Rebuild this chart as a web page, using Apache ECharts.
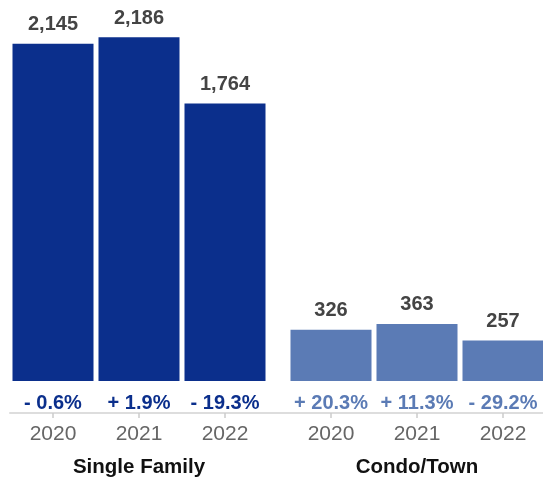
<!DOCTYPE html>
<html>
<head>
<meta charset="utf-8">
<script src="https://cdn.jsdelivr.net/npm/echarts@6/dist/echarts.min.js"></script>
<style>
  html, body { margin: 0; padding: 0; background: #fff; }
  #chart { width: 543px; height: 478px; }
</style>
</head>
<body>
<div id="chart"></div>
<script>
// Closed sales by property type, year over year
const groups = ['Single Family', 'Condo/Town'];
const years = ['2020', '2021', '2022'];
const singleFamily = [2145, 2186, 1764];
const condoTown = [326, 363, 257];
const singleFamilyChange = ['- 0.6%', '+ 1.9%', '- 19.3%'];
const condoTownChange = ['+ 20.3%', '+ 11.3%', '- 29.2%'];

const darkBlue = '#0b2f8c';
const lightBlue = '#5b7bb5';
const FONT = '"Liberation Sans", Arial, Helvetica, sans-serif';

const chart = echarts.init(document.getElementById('chart'), null, { renderer: 'canvas' });

const panels = [
  { name: groups[0], values: singleFamily, change: singleFamilyChange, color: darkBlue, pos: { left: 10, width: 258 } },
  { name: groups[1], values: condoTown, change: condoTownChange, color: lightBlue, pos: { left: 288, width: 258 } }
];

const grid = [];
const xAxis = [];
const yAxis = [];
const series = [];

panels.forEach((p, i) => {
  grid.push(Object.assign({ top: 35, bottom: 97, containLabel: false, outerBoundsMode: 'none' }, p.pos));
  // percent-change row directly under the bars
  xAxis.push({
    type: 'category', gridIndex: i, data: years,
    axisLine: { show: false, onZero: false }, axisTick: { show: false },
    axisLabel: {
      interval: 0, margin: 12, color: p.color, fontFamily: FONT, fontSize: 20, fontWeight: 'bold',
      formatter: (v, idx) => p.change[idx]
    }
  });
  // year row with ticks and group name
  xAxis.push({
    type: 'category', gridIndex: i, data: years, position: 'bottom', offset: 32,
    axisLine: { show: false, onZero: false },
    axisTick: { show: true, alignWithLabel: true, length: 5, lineStyle: { color: '#cccccc', width: 1.5 } },
    axisLabel: { interval: 0, margin: 11, color: '#666666', fontFamily: FONT, fontSize: 21 },
    name: p.name, nameLocation: 'middle', nameGap: 44,
    nameTextStyle: { color: '#111111', fontFamily: FONT, fontSize: 20.5, fontWeight: 'bold' }
  });
  yAxis.push({ type: 'value', gridIndex: i, min: 0, max: 2200, show: false, splitLine: { show: false } });
  series.push({
    type: 'bar', xAxisIndex: i * 2, yAxisIndex: i, data: p.values, barWidth: 81,
    itemStyle: { color: p.color },
    label: {
      show: true, position: 'top', distance: 9, color: '#444444',
      fontFamily: FONT, fontSize: 20, fontWeight: 'bold',
      formatter: (d) => d.value.toLocaleString('en-US')
    }
  });
});

// shared baseline running under both groups
grid.push({ left: 10, right: 0, top: 35, bottom: 97, containLabel: false, outerBoundsMode: 'none' });
xAxis.push({
  type: 'category', gridIndex: 2, data: [''], offset: 32,
  axisLine: { show: true, onZero: false, lineStyle: { color: '#dddddd', width: 2 } },
  axisTick: { show: false }, axisLabel: { show: false }
});
yAxis.push({ type: 'value', gridIndex: 2, min: 0, max: 1, show: false, splitLine: { show: false } });

chart.setOption({
  animation: false,
  backgroundColor: '#ffffff',
  grid, xAxis, yAxis, series
});
</script>
</body>
</html>
